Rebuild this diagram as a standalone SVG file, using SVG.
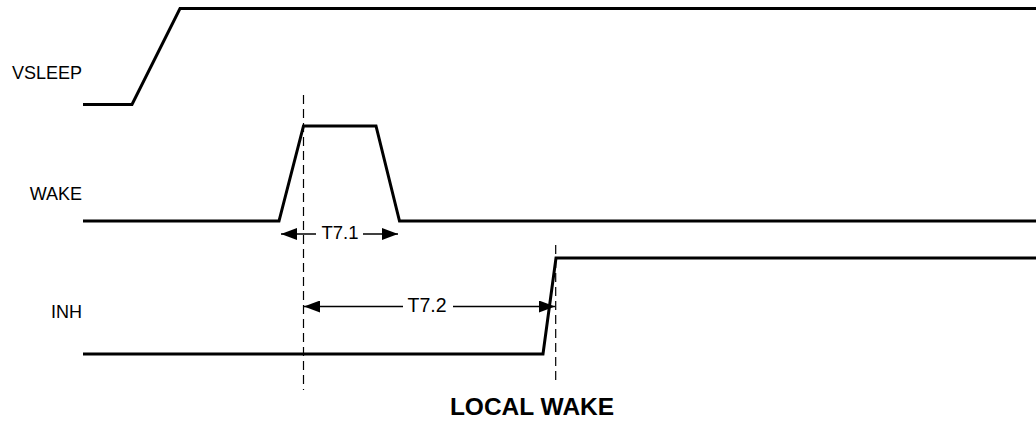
<svg xmlns="http://www.w3.org/2000/svg" width="1036" height="423" viewBox="0 0 1036 423">
<style>
.sig{fill:none;stroke:#000;stroke-width:3;stroke-linejoin:miter}
.dash{fill:none;stroke:#000;stroke-width:1.2;stroke-dasharray:9 5}
.dim{fill:none;stroke:#000;stroke-width:1.4}
.lbl{font-family:"Liberation Sans",Arial,sans-serif;font-size:18px;fill:#000}
.title{font-family:"Liberation Sans",Arial,sans-serif;font-size:24.5px;font-weight:bold;fill:#000}
</style>
<defs>
<marker id="ah" viewBox="0 0 16 12" refX="16" refY="6" markerWidth="16" markerHeight="12" markerUnits="userSpaceOnUse" orient="auto-start-reverse">
<path d="M0,0 L16,6 L0,12 Z" fill="#000"/>
</marker>
</defs>
<g id="vsleep">
<path class="sig" d="M83,104.5 H132 L180,8.5 H1036"/>
<text class="lbl" x="82" y="79" text-anchor="end">VSLEEP</text>
</g>
<g id="wake">
<path class="sig" d="M83,221 H279 L303.5,126 H376 L399.5,221 H1036"/>
<text class="lbl" x="82" y="200" text-anchor="end">WAKE</text>
</g>
<g id="inh">
<path class="sig" d="M83,354 H543 L556,258 H1036"/>
<text class="lbl" x="82" y="318" text-anchor="end">INH</text>
</g>
<g id="connectors">
<line class="dash" x1="303.5" y1="95" x2="303.5" y2="390"/>
<line class="dash" x1="555.7" y1="245" x2="555.7" y2="380"/>
<line class="dim" x1="316" y1="234" x2="281" y2="234" marker-end="url(#ah)"/>
<line class="dim" x1="363" y1="234" x2="398" y2="234" marker-end="url(#ah)"/>
<line class="dim" x1="403" y1="306.5" x2="304" y2="306.5" marker-end="url(#ah)"/>
<line class="dim" x1="453" y1="306.5" x2="555" y2="306.5" marker-end="url(#ah)"/>
</g>
<g id="t71"><text class="lbl" x="340" y="239" text-anchor="middle" style="font-size:18.5px">T7.1</text></g>
<g id="t72"><text class="lbl" x="427" y="311.5" text-anchor="middle" style="font-size:19.5px">T7.2</text></g>
<g id="title"><text class="title" x="532" y="415" text-anchor="middle">LOCAL WAKE</text></g>
</svg>
